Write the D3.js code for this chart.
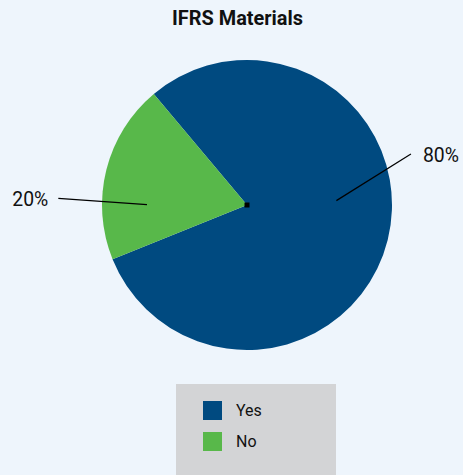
<!DOCTYPE html>
<html><head><meta charset="utf-8">
<script src="https://cdn.jsdelivr.net/npm/d3@7"></script>
<style>
html,body{margin:0;padding:0;background:#eef5fc;}
svg{display:block;}
</style></head>
<body>
<svg id="c" width="463" height="475"></svg>
<script>
const title = "IFRS Materials";
const categories = ["Yes", "No"];
const values = [80, 20];
const labels = ["80%", "20%"];
const colors = ["#004a80", "#58b84a"];

const W = 463, H = 475;
const FONT = "Roboto, 'Liberation Sans', sans-serif";
const svg = d3.select("#c");
svg.append("rect").attr("width", W).attr("height", H).attr("fill", "#eef5fc");

svg.append("text").attr("x", 172).attr("y", 25)
  .attr("font-family", FONT).attr("font-weight", "bold")
  .attr("font-size", 21).attr("textLength", 131).attr("lengthAdjust", "spacingAndGlyphs")
  .attr("fill", "#111").text(title);

const cx = 247, cy = 205, R = 145;
const deg = Math.PI / 180;
const pie = d3.pie().sort(null).value(d => d).startAngle(-40 * deg).endAngle(320 * deg);
const arcs = pie(values);
const arc = d3.arc().innerRadius(0).outerRadius(R);
const g = svg.append("g").attr("transform", `translate(${cx},${cy})`);
g.selectAll("path").data(arcs).enter().append("path")
  .attr("d", arc).attr("fill", (d, i) => colors[i]);

g.append("rect").attr("x", -2.5).attr("y", -2.5).attr("width", 5).attr("height", 5).attr("fill", "#000");

// label leader placement (layout only)
const place = [
  {ia: 87.2, ir: 0.617, oa: 72.7, or: 1.184, anchor: "start", dx: 12},
  {ia: 270.2, ir: 0.69, oa: 272, or: 1.302, anchor: "end", dx: -10}
];
const pt = (a, r) => [Math.sin(a * deg) * r * R, -Math.cos(a * deg) * r * R];
arcs.forEach((d, i) => {
  const p = place[i];
  const a = pt(p.ia, p.ir), b = pt(p.oa, p.or);
  g.append("line").attr("x1", a[0]).attr("y1", a[1]).attr("x2", b[0]).attr("y2", b[1])
    .attr("stroke", "#000").attr("stroke-width", 1.2);
  g.append("text").attr("x", b[0] + p.dx).attr("y", b[1] + 8)
    .attr("text-anchor", p.anchor)
    .attr("font-family", FONT)
    .attr("font-size", 21).attr("textLength", 36).attr("lengthAdjust", "spacingAndGlyphs")
    .attr("fill", "#111").text(labels[i]);
});

// legend
const lg = svg.append("g");
lg.append("rect").attr("x", 176).attr("y", 384).attr("width", 160).attr("height", 91).attr("fill", "#d3d4d6");
const ly = d3.scaleBand().domain(categories).range([396, 458]);
categories.forEach((c, i) => {
  lg.append("rect").attr("x", 203).attr("y", ly(c) + 5).attr("width", 19).attr("height", 19).attr("fill", colors[i]);
  lg.append("text").attr("x", 236).attr("y", ly(c) + 20)
    .attr("font-family", FONT)
    .attr("font-size", 16).attr("fill", "#111").text(c);
});
</script>
</body></html>
